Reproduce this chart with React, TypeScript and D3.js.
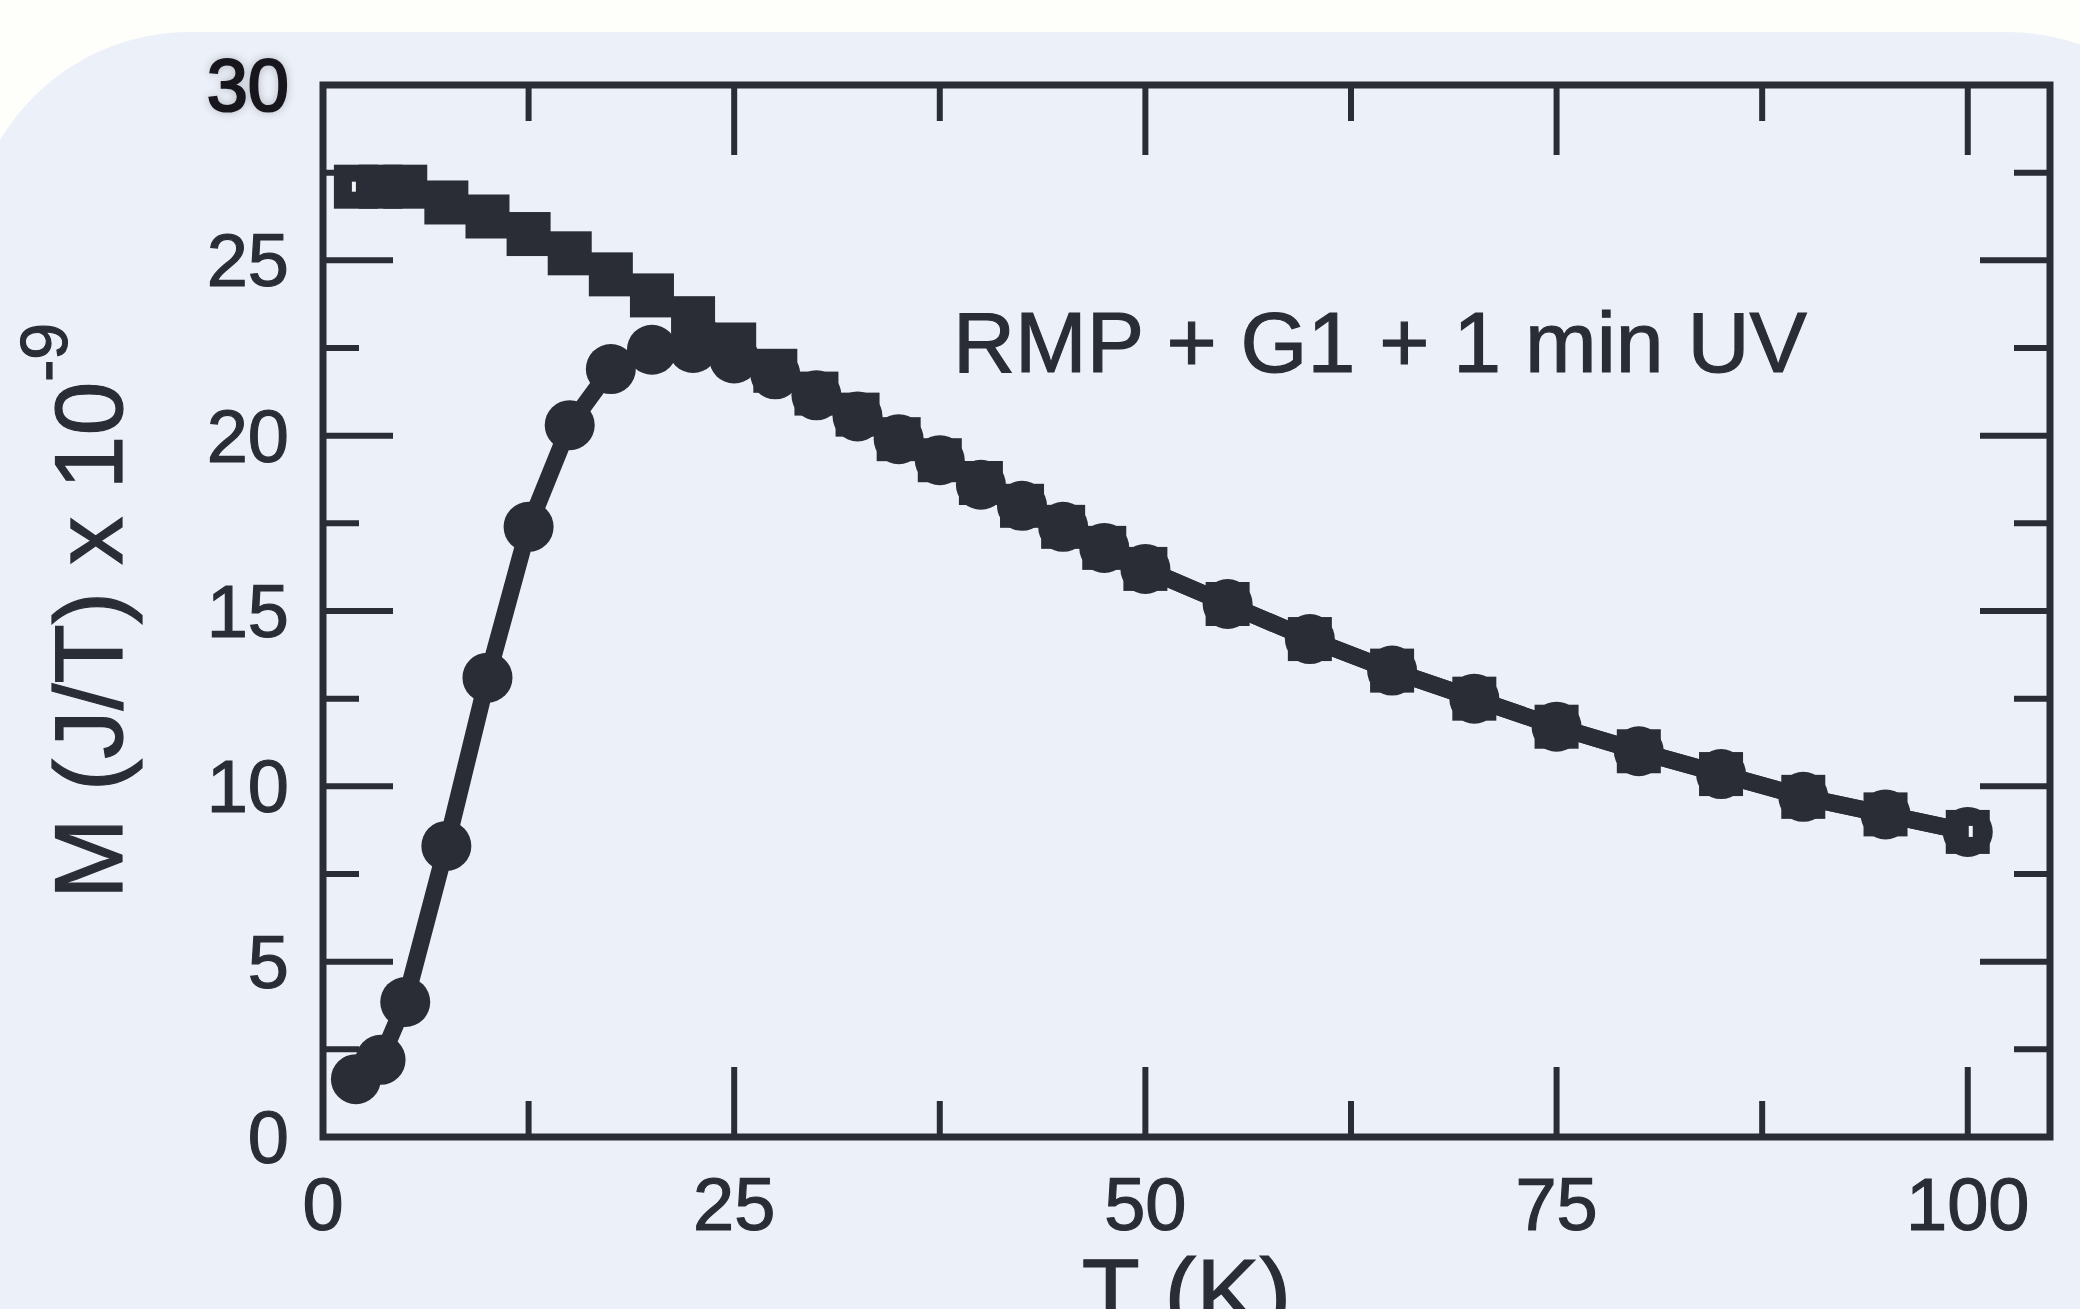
import React from "react";
import * as d3 from "d3";

// ---- data ----
const squareT = [2, 3.5, 5, 7.5, 10, 12.5, 15, 17.5, 20, 22.5, 25, 27.5, 30, 32.5, 35, 37.5, 40, 42.5, 45, 47.5, 50, 55, 60, 65, 70, 75, 80, 85, 90, 95, 100];
const squareM = [27.1, 27.1, 27.1, 26.65, 26.25, 25.75, 25.2, 24.6, 24.0, 23.35, 22.6, 21.85, 21.2, 20.6, 19.9, 19.3, 18.65, 18.0, 17.4, 16.8, 16.2, 15.2, 14.2, 13.3, 12.5, 11.7, 11.0, 10.35, 9.7, 9.2, 8.7];
const circleT = [2, 3.5, 5, 7.5, 10, 12.5, 15, 17.5, 20, 22.5, 25, 27.5, 30, 32.5, 35, 37.5, 40, 42.5, 45, 47.5, 50, 55, 60, 65, 70, 75, 80, 85, 90, 95, 100];
const circleM = [1.65, 2.2, 3.85, 8.3, 13.1, 17.4, 20.3, 21.9, 22.45, 22.5, 22.2, 21.75, 21.15, 20.55, 19.9, 19.3, 18.6, 18.0, 17.4, 16.8, 16.2, 15.2, 14.2, 13.3, 12.5, 11.7, 11.0, 10.35, 9.7, 9.2, 8.7];
const xMajorTicks = [0, 25, 50, 75, 100];
const xMinorTicks = [12.5, 37.5, 62.5, 87.5];
const yMajorTicks = [0, 5, 10, 15, 20, 25, 30];
const yMinorTicks = [2.5, 7.5, 12.5, 17.5, 22.5, 27.5];
const annotation = "RMP + G1 + 1 min UV";
const xLabel = "T (K)";
const yLabelMain = "M (J/T) x 10";
const yLabelSup = "-9";

const W = 2080;
const H = 1309;
const INK = "#2a2d36";
const BG = "#ecf0f9";
const FONT = "'Liberation Sans', Arial, Helvetica, sans-serif";

export default function App() {
  const x = d3.scaleLinear().domain([0, 105]).range([323, 2050]);
  const y = d3.scaleLinear().domain([0, 30]).range([1137, 85]);
  const [x0, x1] = x.range();
  const [y0, y1] = y.range();

  const line = d3
    .line<[number, number]>()
    .x((d) => x(d[0]))
    .y((d) => y(d[1]));

  const squares: [number, number][] = squareT.map((t, i) => [t, squareM[i]]);
  const circles: [number, number][] = circleT.map((t, i) => [t, circleM[i]]);

  const MAJ = 70;
  const MIN = 36;
  const SQ = 44;
  const R = 25;

  const tickProps = { stroke: INK, strokeWidth: 6 };
  const textThick = { stroke: INK, strokeWidth: 1.2 };

  return (
    <div style={{ position: "fixed", left: 0, top: 0, width: W, height: H, overflow: "hidden", background: "#fefefb" }}>
      <svg width={W} height={H} style={{ display: "block" }} fontFamily={FONT}>
        <defs>
          <filter id="glow" x="-30%" y="-30%" width="160%" height="160%">
            <feGaussianBlur in="SourceAlpha" stdDeviation="5" />
            <feComponentTransfer>
              <feFuncA type="linear" slope="0.25" />
            </feComponentTransfer>
            <feMerge>
              <feMergeNode />
              <feMergeNode in="SourceGraphic" />
            </feMerge>
          </filter>
        </defs>
        <rect x={0} y={0} width={W} height={H} fill="#fefefb" />
        <rect x={-31} y={32} width={2259} height={H + 300} rx={221} ry={221} fill={BG} />

        {/* data lines */}
        <path d={line(squares) || ""} fill="none" stroke={INK} strokeWidth={17} strokeLinejoin="round" />
        <path d={line(circles) || ""} fill="none" stroke={INK} strokeWidth={17} strokeLinejoin="round" />

        {/* markers */}
        {squares.map((d, i) => (
          <rect key={"s" + i} x={x(d[0]) - SQ / 2} y={y(d[1]) - SQ / 2} width={SQ} height={SQ} fill={INK} />
        ))}
        {circles.map((d, i) => (
          <circle key={"c" + i} cx={x(d[0])} cy={y(d[1])} r={R} fill={INK} />
        ))}
        {/* small open centers on first square and last circle */}
        <rect x={x(squares[0][0]) - 4} y={y(squares[0][1]) - 5} width={4} height={10} fill="#f4f5fa" />
        <rect x={x(circles[circles.length - 1][0]) + 1} y={y(circles[circles.length - 1][1]) - 6} width={4} height={11} fill="#f4f5fa" />

        {/* frame */}
        <rect x={x0} y={y1} width={x1 - x0} height={y0 - y1} fill="none" stroke={INK} strokeWidth={7} />

        {/* x ticks bottom & top */}
        {xMajorTicks.map((t) => (
          <g key={"xM" + t}>
            <line x1={x(t)} x2={x(t)} y1={y0} y2={y0 - MAJ} {...tickProps} />
            <line x1={x(t)} x2={x(t)} y1={y1} y2={y1 + MAJ} {...tickProps} />
          </g>
        ))}
        {xMinorTicks.map((t) => (
          <g key={"xm" + t}>
            <line x1={x(t)} x2={x(t)} y1={y0} y2={y0 - MIN} {...tickProps} />
            <line x1={x(t)} x2={x(t)} y1={y1} y2={y1 + MIN} {...tickProps} />
          </g>
        ))}
        {/* y ticks left & right */}
        {yMajorTicks.map((t) => (
          <g key={"yM" + t}>
            <line x1={x0} x2={x0 + MAJ} y1={y(t)} y2={y(t)} {...tickProps} />
            <line x1={x1} x2={x1 - MAJ} y1={y(t)} y2={y(t)} {...tickProps} />
          </g>
        ))}
        {yMinorTicks.map((t) => (
          <g key={"ym" + t}>
            <line x1={x0} x2={x0 + MIN} y1={y(t)} y2={y(t)} {...tickProps} />
            <line x1={x1} x2={x1 - MIN} y1={y(t)} y2={y(t)} {...tickProps} />
          </g>
        ))}

        {/* tick labels */}
        {xMajorTicks.map((t) => (
          <text key={"xl" + t} x={x(t)} y={1230} textAnchor="middle" fontSize={74} fill={INK} {...textThick}>
            {t}
          </text>
        ))}
        {yMajorTicks.map((t) =>
          t === 30 ? (
            <text key={"yl" + t} x={289} y={y(t) + 26} textAnchor="end" fontSize={74} fill="#15171d" stroke="#15171d" strokeWidth={2.2} filter="url(#glow)">
              {t}
            </text>
          ) : (
            <text key={"yl" + t} x={289} y={y(t) + 26} textAnchor="end" fontSize={74} fill={INK} {...textThick}>
              {t}
            </text>
          )
        )}

        {/* annotation */}
        <text x={953} y={372} fontSize={86} fill={INK} {...textThick}>
          {annotation}
        </text>

        {/* axis labels */}
        <text x={(x0 + x1) / 2} y={1325} textAnchor="middle" fontSize={95} fill={INK} {...textThick}>
          {xLabel}
        </text>
        <text transform={`translate(122, ${(y0 + y1) / 2}) rotate(-90)`} textAnchor="middle" fontSize={97} fill={INK} {...textThick}>
          {yLabelMain}
          <tspan fontSize={66} dy={-55}>
            {yLabelSup}
          </tspan>
        </text>
      </svg>
    </div>
  );
}
